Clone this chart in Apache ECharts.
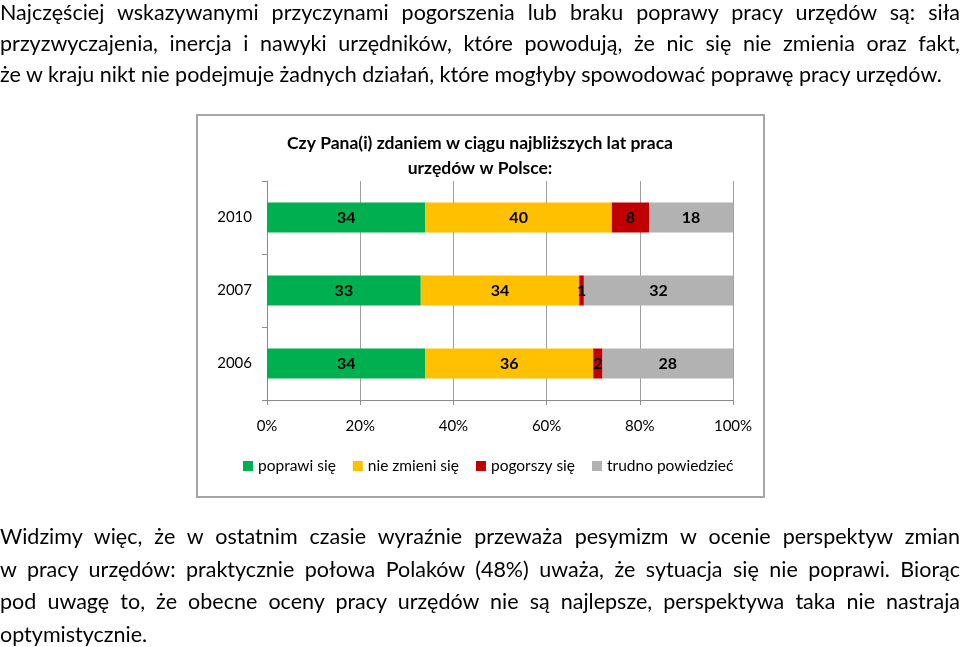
<!DOCTYPE html>
<html>
<head>
<meta charset="utf-8">
<script src="https://cdn.jsdelivr.net/npm/echarts@6/dist/echarts.min.js"></script>
<style>
  body { margin: 0; background: #fff; }
  #page { position: relative; width: 960px; height: 647px; overflow: hidden; }
  #chart { position: absolute; left: 0; top: 0; width: 960px; height: 647px; }
  .txt { position: absolute; left: 0; width: 960px; font-family: Lato, "DejaVu Sans Condensed", sans-serif; font-size: 21.5px; color: #000; white-space: nowrap; }
  .txt div { text-align: justify; text-align-last: justify; white-space: normal; }
  .txt div.last { text-align-last: left; }
</style>
</head>
<body>
<div id="page">
  <div id="chart"></div>
  <div class="txt" id="top" style="top:-3px; line-height:31px;">
    <div>Najczęściej wskazywanymi przyczynami pogorszenia lub braku poprawy pracy urzędów są: siła</div>
    <div>przyzwyczajenia, inercja i nawyki urzędników, które powodują, że nic się nie zmienia oraz fakt,</div>
    <div class="last">że w kraju nikt nie podejmuje żadnych działań, które mogłyby spowodować poprawę pracy urzędów.</div>
  </div>
  <div class="txt" id="bottom" style="top:520px; line-height:32.7px;">
    <div>Widzimy więc, że w ostatnim czasie wyraźnie przeważa pesymizm w ocenie perspektyw zmian</div>
    <div>w pracy urzędów: praktycznie połowa Polaków (48%) uważa, że sytuacja się nie poprawi. Biorąc</div>
    <div>pod uwagę to, że obecne oceny pracy urzędów nie są najlepsze, perspektywa taka nie nastraja</div>
    <div class="last">optymistycznie.</div>
  </div>
</div>
<script>
var years = ['2006', '2007', '2010'];
var poprawi = [34, 33, 34];
var nieZmieni = [36, 34, 40];
var pogorszy = [2, 1, 8];
var trudno = [28, 32, 18];
var names = ['poprawi się', 'nie zmieni się', 'pogorszy się', 'trudno powiedzieć'];
var colors = ['#00b050', '#ffc000', '#c00000', '#b2b2b2'];

var font = 'Lato, "DejaVu Sans Condensed", sans-serif';
var myChart = echarts.init(document.getElementById('chart'));

function bar(name, data, color) {
    return {
        name: name,
        type: 'bar',
        stack: 'total',
        data: data,
        barWidth: 30,
        itemStyle: { color: color },
        label: {
            show: true,
            position: 'inside',
            color: '#000',
            fontWeight: 'bold',
            fontSize: 16,
            fontFamily: font
        }
    };
}

var option = {
    animation: false,
    color: colors,
    textStyle: { fontFamily: font },
    title: {
        text: 'Czy Pana(i) zdaniem w ciągu najbliższych lat praca\nurzędów w Polsce:',
        left: 'center',
        top: 126,
        textStyle: { fontSize: 17.5, fontWeight: 'bold', lineHeight: 25, color: '#000', fontFamily: font }
    },
    graphic: [{
        type: 'rect',
        shape: { x: 197, y: 115, width: 567, height: 382 },
        style: { fill: 'none', stroke: '#a6a6a6', lineWidth: 2 },
        silent: true
    }],
    legend: {
        data: names,
        left: 243,
        top: 458,
        padding: 0,
        icon: 'rect',
        itemWidth: 10,
        itemHeight: 10,
        itemGap: 17,
        textStyle: { fontSize: 15.5, color: '#000', fontFamily: font }
    },
    grid: { left: 267, top: 181, width: 466, height: 219 },
    xAxis: {
        type: 'value',
        min: 0,
        max: 100,
        interval: 20,
        axisLine: { show: true, lineStyle: { color: '#8c8c8c' } },
        axisTick: { show: true, length: 5, lineStyle: { color: '#8c8c8c' } },
        splitLine: { show: true, lineStyle: { color: '#a0a0a0' } },
        axisLabel: { formatter: '{value}%', fontSize: 15, color: '#000', margin: 19 }
    },
    yAxis: {
        type: 'category',
        data: years,
        axisLine: { show: true, lineStyle: { color: '#8c8c8c' } },
        axisTick: { show: true, length: 5, alignWithLabel: false, lineStyle: { color: '#8c8c8c' } },
        axisLabel: { fontSize: 15, color: '#000', margin: 15 }
    },
    series: [
        bar(names[0], poprawi, colors[0]),
        bar(names[1], nieZmieni, colors[1]),
        bar(names[2], pogorszy, colors[2]),
        bar(names[3], trudno, colors[3])
    ]
};
myChart.setOption(option);
</script>
</body>
</html>
